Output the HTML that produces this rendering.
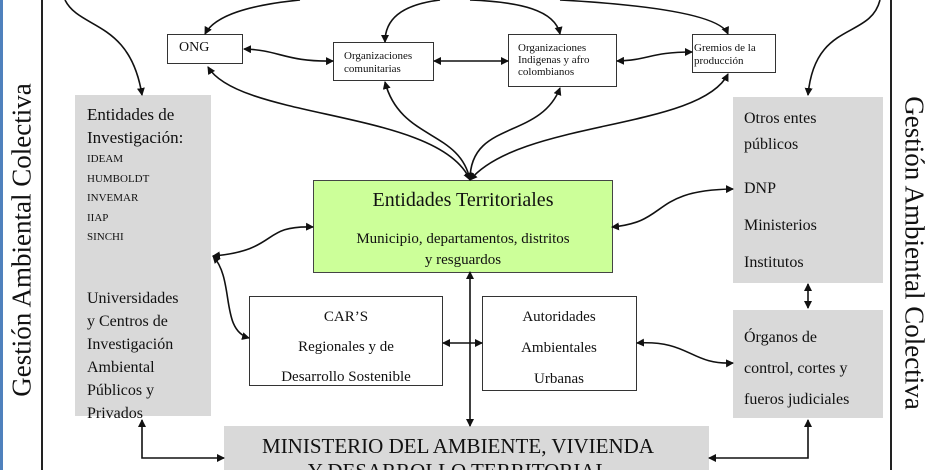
<!DOCTYPE html>
<html style="margin:0;width:938px;height:470px;overflow:hidden"><head><meta charset="utf-8"><style>
body{margin:0;width:938px;height:470px;overflow:hidden;background:#fff;font-family:"Liberation Serif",serif;position:relative}
.b{position:absolute;box-sizing:border-box}
.w{border:1.5px solid #333;background:#fff}
.g{background:#d9d9d9}
.t{position:absolute;white-space:nowrap;color:#111}
</style></head><body>
<div class="b" style="left:0;top:0;width:3px;height:470px;background:#4f81bd"></div>
<div class="b" style="left:41px;top:0;width:2px;height:470px;background:#222"></div>
<div class="b" style="left:890px;top:0;width:2px;height:470px;background:#222"></div>
<div class="t" style="left:22px;top:240px;transform:translate(-50%,-50%) rotate(-90deg);font-size:27px">Gestión Ambiental Colectiva</div>
<div class="t" style="left:914px;top:253px;transform:translate(-50%,-50%) rotate(90deg);font-size:27px">Gestión Ambiental Colectiva</div>

<div class="b g" style="left:75px;top:95px;width:136px;height:321px"></div>
<div class="t" style="left:87px;top:103px;font-size:17px;line-height:23px">Entidades de<br>Investigación:</div>
<div class="t" style="left:87px;top:150px;font-size:11px;line-height:19.5px">IDEAM<br>HUMBOLDT<br>INVEMAR<br>IIAP<br>SINCHI</div>
<div class="t" style="left:87px;top:287px;font-size:16px;line-height:23px">Universidades<br>y Centros de<br>Investigación<br>Ambiental<br>Públicos y<br>Privados</div>

<div class="b g" style="left:733px;top:97px;width:150px;height:186px"></div>
<div class="t" style="left:744px;top:106px;font-size:16px;line-height:26px">Otros entes<br>públicos</div>
<div class="t" style="left:744px;top:170px;font-size:16px;line-height:37px">DNP<br>Ministerios<br>Institutos</div>
<div class="b g" style="left:733px;top:310px;width:150px;height:108px"></div>
<div class="t" style="left:744px;top:322px;font-size:16px;line-height:31px">Órganos de<br>control, cortes y<br>fueros judiciales</div>

<div class="b w" style="left:167px;top:34px;width:76px;height:30px"></div>
<div class="t" style="left:179px;top:40px;font-size:14px">ONG</div>
<div class="b w" style="left:333px;top:42px;width:101px;height:39px"></div>
<div class="t" style="left:344px;top:50px;font-size:11px;line-height:13px">Organizaciones<br>comunitarias</div>
<div class="b w" style="left:508px;top:34px;width:109px;height:53px"></div>
<div class="t" style="left:518px;top:42px;font-size:11px;line-height:12px">Organizaciones<br>Indigenas y afro<br>colombianos</div>
<div class="b w" style="left:692px;top:34px;width:84px;height:39px"></div>
<div class="t" style="left:694px;top:42px;font-size:11px;line-height:13px">Gremios de la<br>producción</div>

<div class="b" style="left:313px;top:180px;width:300px;height:93px;background:#ccff99;border:1.5px solid #444"></div>
<div class="t" style="left:463px;top:189px;transform:translateX(-50%);font-size:20px">Entidades Territoriales</div>
<div class="t" style="left:463px;top:229px;transform:translateX(-50%);font-size:15px;line-height:21px;text-align:center">Municipio, departamentos, distritos<br>y resguardos</div>

<div class="b w" style="left:249px;top:296px;width:194px;height:90px"></div>
<div class="t" style="left:346px;top:302px;transform:translateX(-50%);font-size:15px;line-height:30px;text-align:center">CAR’S<br>Regionales y de<br>Desarrollo Sostenible</div>
<div class="b w" style="left:482px;top:296px;width:155px;height:95px"></div>
<div class="t" style="left:559px;top:302px;transform:translateX(-50%);font-size:15px;line-height:31px;text-align:center">Autoridades<br>Ambientales<br>Urbanas</div>

<div class="b g" style="left:224px;top:426px;width:485px;height:50px"></div>
<div class="t" style="left:458px;top:434px;transform:translateX(-50%);font-size:21px;line-height:25px;text-align:center">MINISTERIO DEL AMBIENTE, VIVIENDA<br>Y DESARROLLO TERRITORIAL</div>

<svg width="938" height="470" style="position:absolute;left:0;top:0" fill="none" stroke="#111" stroke-width="1.6">
<defs><marker id="a" markerWidth="8" markerHeight="8" refX="7" refY="4" orient="auto-start-reverse" markerUnits="userSpaceOnUse"><path d="M0,0L8,4L0,8z" fill="#111" stroke="none"/></marker></defs>
<g marker-end="url(#a)">
<path d="M65,0 C80,30 130,20 142,95"/>
<path d="M300,0 C250,5 215,15 205,34"/>
<path d="M440,0 C400,5 385,20 385,42"/>
<path d="M470,0 C520,2 555,10 560,34"/>
<path d="M560,0 C650,5 720,15 728,34"/>
<path d="M880,0 C870,40 815,20 808,95"/>
</g>
<g marker-start="url(#a)" marker-end="url(#a)">
<path d="M208,67 C240,120 440,110 470,180"/>
<path d="M385,82 C400,140 460,130 470,180"/>
<path d="M560,88 C540,140 470,120 470,180"/>
<path d="M728,74 C700,130 520,120 470,180"/>
<path d="M244,49 C280,50 285,62 333,61"/>
<path d="M434,61 L508,61"/>
<path d="M617,61 C650,60 650,52 692,52"/>
<path d="M313,227 C260,225 280,250 213,256"/>
<path d="M213,256 C235,280 220,330 249,338"/>
<path d="M612,227 C670,222 650,190 733,189"/>
<path d="M470,272 L470,426"/>
<path d="M443,343 L482,343"/>
<path d="M637,343 C690,340 690,365 733,363"/>
<path d="M808,284 L808,308"/>
<path d="M142,420 L142,458 L224,458"/>
<path d="M808,420 L808,458 L709,458"/>
</g>
</svg>
</body></html>
